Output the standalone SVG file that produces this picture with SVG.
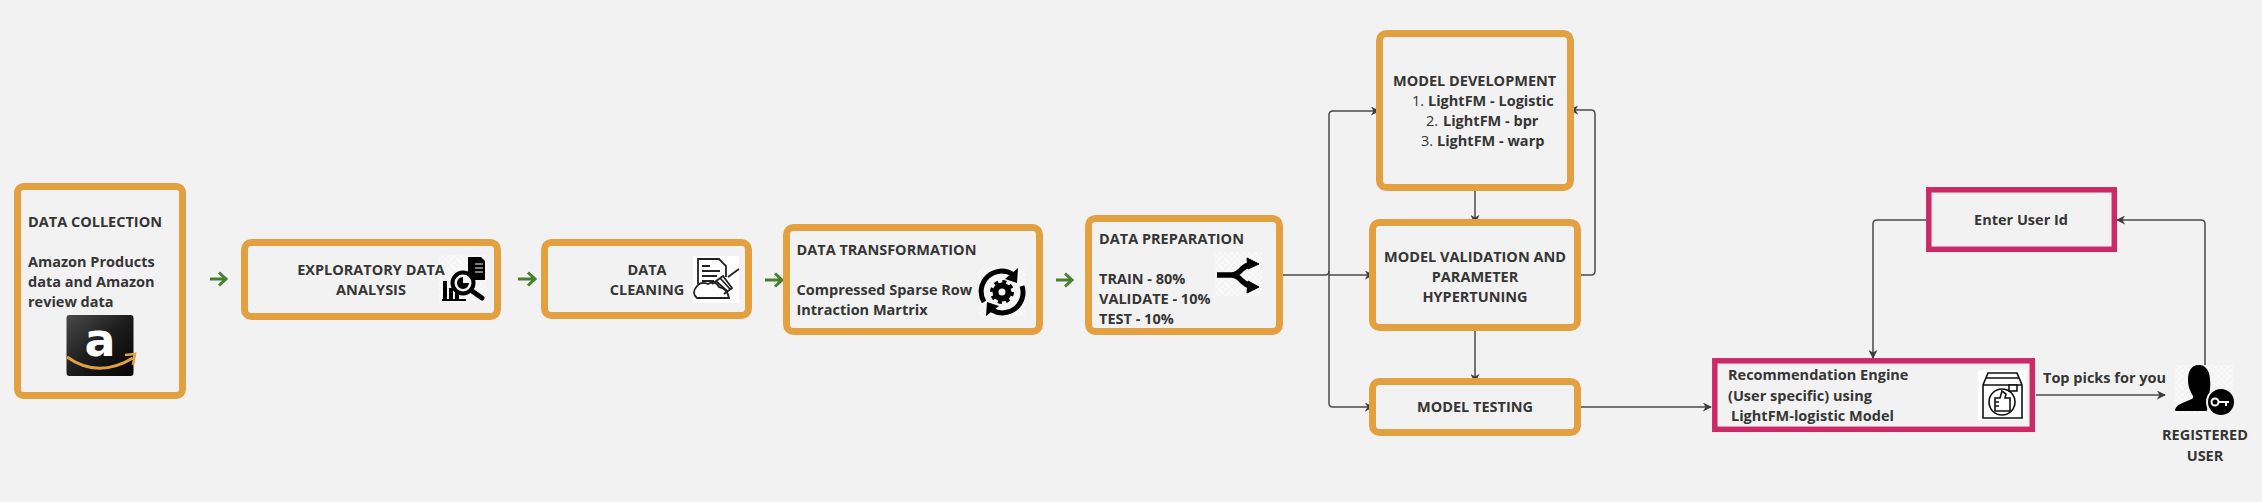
<svg xmlns="http://www.w3.org/2000/svg" width="2262" height="502" viewBox="0 0 2262 502">
<style>
text{font-family:"Open Sans","Noto Sans",sans-serif;font-size:14.5px;font-weight:700;fill:#353535}
.m{text-anchor:middle}
.o{fill:#f2f2f2;stroke:#e3a040;stroke-width:7}
.r{fill:#f2f2f2;stroke:#cb2a66;stroke-width:5.5}
.c{fill:none;stroke:#4a4a4a;stroke-width:1.5}
.g{fill:none;stroke:#44802e;stroke-width:3}
.n{font-weight:400}
</style>
<defs>
<marker id="a" viewBox="0 0 10 10" refX="9" refY="5" markerWidth="9" markerHeight="9" markerUnits="userSpaceOnUse" orient="auto"><path d="M0 0L10 5L0 10L3 5Z" fill="#3c3c3c"/></marker>
<pattern id="ck" width="6" height="6" patternUnits="userSpaceOnUse"><rect width="6" height="6" fill="#f3f3f3"/><rect width="3" height="3" fill="#f8f8f8"/><rect x="3" y="3" width="3" height="3" fill="#f8f8f8"/></pattern>
<linearGradient id="amz" x1="0" y1="0" x2="1" y2="1"><stop offset="0" stop-color="#4a4a4a"/><stop offset=".5" stop-color="#1c1c1c"/><stop offset="1" stop-color="#050505"/></linearGradient>
</defs>
<rect width="2262" height="502" fill="#f2f2f2"/>
<g id="connectors">
<path class="g" d="M210 279H225M219 272.500L226 279L219 285.500"/>
<path class="g" d="M518 279H534M528 272.500L535 279L528 285.500"/>
<path class="g" d="M765 280H781M775 273.500L782 280L775 286.500"/>
<path class="g" d="M1056 280H1071M1065 273.500L1072 280L1065 286.500"/>
<path class="c" marker-end="url(#a)" d="M1280 275H1325Q1329 275 1329 271V115Q1329 111 1333 111H1379"/>
<path class="c" marker-end="url(#a)" d="M1329 275H1373"/>
<path class="c" marker-end="url(#a)" d="M1329 271V403Q1329 407 1333 407H1373"/>
<path class="c" marker-end="url(#a)" d="M1475 188V223"/>
<path class="c" marker-end="url(#a)" d="M1577 275H1591Q1595 275 1595 271V114Q1595 110 1591 110H1570"/>
<path class="c" marker-end="url(#a)" d="M1475 327V382"/>
<path class="c" marker-end="url(#a)" d="M1577 407H1711"/>
<path class="c" marker-end="url(#a)" d="M1926 220H1877Q1873 220 1873 224V358"/>
<path class="c" marker-end="url(#a)" d="M2205 365V224Q2205 220 2201 220H2117"/>
<path class="c" marker-end="url(#a)" d="M2036 395H2165"/>
</g>
<g id="data-collection">
<rect class="o" x="17.500" y="186.500" width="165" height="209" rx="6"/>
<text x="28" y="227">DATA COLLECTION</text>
<text x="28" y="267">Amazon Products</text>
<text x="28" y="287">data and Amazon</text>
<text x="28" y="307">review data</text>
<rect x="66.500" y="315" width="67" height="61" rx="3" fill="url(#amz)"/>
<text x="100" y="356" class="m" style="font-family:'DejaVu Sans',sans-serif;font-size:46px;fill:#fff">a</text>
<path d="M67 357Q98 379 133 358" fill="none" stroke="#e3a040" stroke-width="3"/>
<path d="M125 355L135 354L133 365" fill="none" stroke="#e3a040" stroke-width="2.500"/>
</g>
<g id="eda">
<rect class="o" x="244.500" y="242.500" width="253" height="74" rx="7"/>
<rect x="439" y="255" width="48" height="48" fill="url(#ck)"/>
<text class="m" x="371" y="275">EXPLORATORY DATA</text>
<text class="m" x="371" y="295">ANALYSIS</text>
<path d="M468 257H481L485 261V280H468Z" fill="#000"/>
<path d="M475 264H483M475 268H483M475 272H483" stroke="#f2f2f2" stroke-width="1"/>
<rect x="443" y="281" width="4" height="19"/>
<rect x="449" y="288" width="4" height="12"/><rect x="455" y="292" width="4" height="8"/><rect x="442" y="299" width="24" height="2"/>
<circle cx="463" cy="283" r="10.500" fill="#f2f2f2" stroke="#000" stroke-width="4"/>
<path d="M463 277V283H469A6 6 0 1 1 463 277Z" fill="#000"/>
<path d="M472 291L482 298" stroke="#000" stroke-width="5" stroke-linecap="round"/>
</g>
<g id="data-cleaning">
<rect class="o" x="544.500" y="242.500" width="204" height="73" rx="7"/>
<text class="m" x="647" y="275">DATA</text>
<text class="m" x="647" y="295">CLEANING</text>
<rect x="693" y="256" width="46" height="47" fill="#fff"/>
<g fill="none" stroke="#222" stroke-width="1.800">
<path d="M698 284V259H719L726 266V277"/><path d="M702 266H710M702 271H720M702 276H717M702 281H714"/>
<path d="M697 298Q691 293 697 286Q701 281 708 284Q715 280 719 287Q727 288 729 298Z"/>
<path d="M712 284L723 276L732 288L724 294M728 277L739 269M716 281L727 291M720 278L730 289"/></g>
</g>
<g id="data-transformation">
<rect class="o" x="786.500" y="227.500" width="253" height="104" rx="7"/>
<rect x="979" y="269" width="47" height="47" fill="url(#ck)"/>
<text x="796.500" y="255">DATA TRANSFORMATION</text>
<text x="796.500" y="295">Compressed Sparse Row</text>
<text x="796.500" y="315">Intraction Martrix</text>
<path d="M984 302A20.500 20.500 0 0 1 1013 274.500M1022 286A20.500 20.500 0 0 1 992 310" fill="none" stroke="#000" stroke-width="5"/>
<path d="M1018 268L1017 283L1005 279ZM986 316L987 302L999 306Z" fill="#000"/>
<circle cx="1002" cy="292" r="6.500" fill="none" stroke="#000" stroke-width="6"/>
<circle cx="1002" cy="292" r="10.500" fill="none" stroke="#000" stroke-width="3" stroke-dasharray="4.120 4.120"/>
</g>
<g id="data-preparation">
<rect class="o" x="1088.500" y="218.500" width="191" height="113" rx="7"/>
<rect x="1214" y="252" width="48" height="44" fill="url(#ck)"/>
<text x="1099" y="244">DATA PREPARATION</text>
<text x="1099" y="284">TRAIN - 80%</text>
<text x="1099" y="304">VALIDATE - 10%</text>
<text x="1099" y="324">TEST - 10%</text>
<path d="M1217 275H1231Q1237 275 1242 269Q1246 265 1252 264M1231 275Q1237 275 1242 281Q1246 285 1252 287" fill="none" stroke="#000" stroke-width="5.500"/>
<path d="M1247 258L1259 264L1248 269ZM1248 281L1259 287L1247 293Z" fill="#000" stroke="#000"/>
</g>
<g id="model-development">
<rect class="o" x="1379.500" y="33.500" width="191" height="154" rx="7"/>
<text x="1393" y="86">MODEL DEVELOPMENT</text>
<text x="1412" y="106" class="n">1.</text><text x="1428" y="106">LightFM - Logistic</text>
<text x="1426" y="126" class="n">2.</text><text x="1443" y="126">LightFM - bpr</text>
<text x="1421" y="146" class="n">3.</text><text x="1437" y="146">LightFM - warp</text>
</g>
<g id="model-validation">
<rect class="o" x="1372.500" y="222.500" width="205" height="105" rx="7"/>
<text class="m" x="1475" y="262">MODEL VALIDATION AND</text>
<text class="m" x="1475" y="282">PARAMETER</text>
<text class="m" x="1475" y="302">HYPERTUNING</text>
</g>
<g id="model-testing">
<rect class="o" x="1372.500" y="381.500" width="205" height="51" rx="7"/>
<text class="m" x="1475" y="412">MODEL TESTING</text>
</g>
<g id="recommendation-engine">
<rect class="r" x="1714.800" y="360.800" width="317.500" height="68.500"/>
<text x="1728" y="380">Recommendation Engine</text>
<text x="1728" y="400.500">(User specific) using</text>
<text x="1731" y="420.500">LightFM-logistic Model</text>
<rect x="1978" y="370" width="48" height="50" fill="#fff"/>
<g fill="none" stroke="#111" stroke-width="1.600">
<path d="M1983 418V385L1988 373H2017L2022 385V418Z M1983 385H2022M1986 378H2019"/>
<circle cx="2002" cy="402" r="13"/>
<path d="M1995 398H2000L2002 391L2006 394L2005 398H2010V411H1995ZM1995 402H1999M1995 406H1999"/>
<rect x="2009" y="385" width="8" height="6" fill="#fff"/></g>
</g>
<g id="enter-user-id">
<rect class="r" x="1928.800" y="189.800" width="185.500" height="59.500"/>
<text class="m" x="2021" y="225">Enter User Id</text>
</g>
<text id="top-picks" x="2043" y="383">Top picks for you</text>
<g id="registered-user">
<rect x="2175" y="365" width="58" height="50" fill="url(#ck)"/>
<path d="M2199 365C2190 365 2188 373 2188 380C2188 388 2191 392 2193 396V398C2188 402 2176 403 2175 410Q2175 411 2176 411H2207L2208 400L2210 396C2209 392 2211 386 2210 380C2210 373 2207 365 2199 365Z" fill="#000"/>
<circle cx="2221" cy="402" r="14" fill="#000" stroke="#f2f2f2" stroke-width="2"/>
<circle cx="2215" cy="402" r="3.500" fill="none" stroke="#fff" stroke-width="2"/>
<path d="M2218 402H2229M2226 402V406" stroke="#fff" stroke-width="2" fill="none"/>
<text class="m" x="2205" y="440">REGISTERED</text>
<text class="m" x="2205" y="461">USER</text>
</g>
</svg>
